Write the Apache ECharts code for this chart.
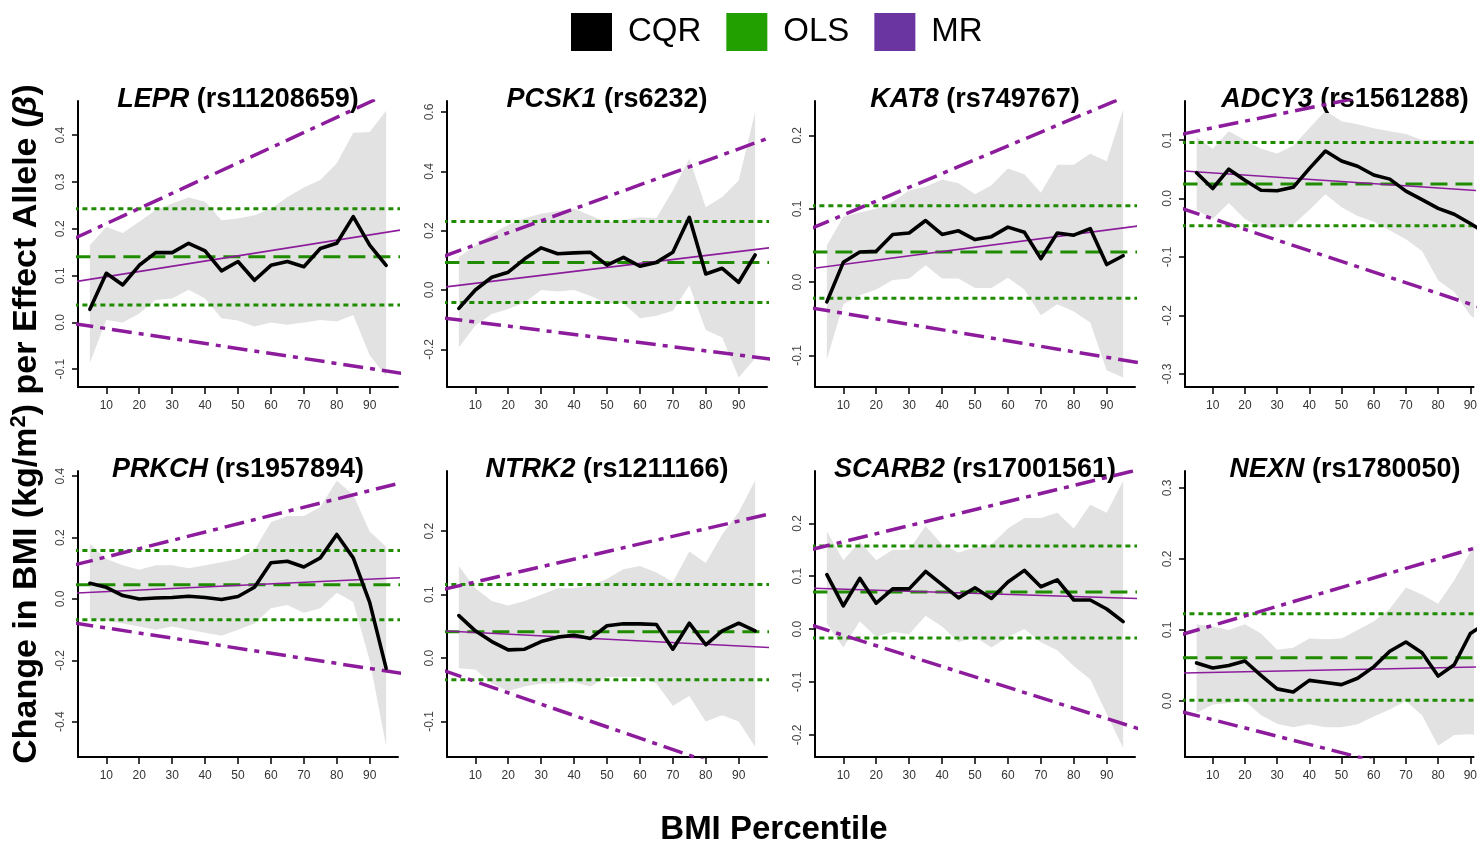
<!DOCTYPE html>
<html>
<head>
<meta charset="utf-8">
<script src="https://cdn.jsdelivr.net/npm/echarts@6/dist/echarts.min.js"></script>
<style>
  html, body { margin: 0; background: #fff; }
  #chart { width: 1480px; height: 844px; }
</style>
</head>
<body>
<div id="chart"></div>
<script>
// BMI percentile grid used by the quantile regression
const pct = [5, 10, 15, 20, 25, 30, 35, 40, 45, 50, 55, 60, 65, 70, 75, 80, 85, 90, 95];
const genes = ['LEPR', 'PCSK1', 'KAT8', 'ADCY3', 'PRKCH', 'NTRK2', 'SCARB2', 'NEXN'];
const snps  = ['rs11208659', 'rs6232', 'rs749767', 'rs1561288', 'rs1957894', 'rs1211166', 'rs17001561', 'rs1780050'];

// CQR estimates + confidence band (lo / hi)
const cqrLEPR = [0.028, 0.105, 0.080, 0.122, 0.149, 0.149, 0.169, 0.153, 0.110, 0.130, 0.090, 0.122, 0.130, 0.119, 0.158, 0.169, 0.226, 0.165, 0.122];
const hiLEPR  = [0.165, 0.204, 0.191, 0.215, 0.240, 0.254, 0.267, 0.258, 0.218, 0.222, 0.229, 0.243, 0.268, 0.288, 0.304, 0.340, 0.405, 0.407, 0.452];
const loLEPR  = [-0.086, 0.005, 0.000, 0.019, 0.048, 0.051, 0.070, 0.051, 0.009, 0.004, -0.009, 0.000, -0.005, 0.000, 0.005, 0.002, 0.016, -0.070, -0.115];

const cqrPCSK1 = [-0.062, 0.000, 0.043, 0.060, 0.105, 0.142, 0.122, 0.125, 0.127, 0.084, 0.110, 0.080, 0.093, 0.127, 0.245, 0.054, 0.073, 0.026, 0.118];
const hiPCSK1  = [0.110, 0.150, 0.189, 0.220, 0.242, 0.257, 0.266, 0.274, 0.251, 0.229, 0.236, 0.245, 0.243, 0.335, 0.442, 0.279, 0.313, 0.369, 0.600];
const loPCSK1  = [-0.194, -0.120, -0.081, -0.064, -0.042, 0.000, -0.005, 0.000, -0.020, -0.045, -0.045, -0.095, -0.087, -0.070, 0.015, -0.135, -0.160, -0.295, -0.230];

const cqrKAT8 = [-0.027, 0.027, 0.041, 0.042, 0.065, 0.067, 0.084, 0.065, 0.070, 0.058, 0.062, 0.075, 0.068, 0.032, 0.067, 0.064, 0.073, 0.024, 0.036];
const hiKAT8  = [0.050, 0.089, 0.095, 0.100, 0.110, 0.125, 0.130, 0.140, 0.135, 0.120, 0.132, 0.155, 0.147, 0.122, 0.160, 0.160, 0.175, 0.165, 0.235];
const loKAT8  = [-0.105, -0.030, -0.018, -0.010, 0.003, 0.005, 0.023, 0.005, 0.005, -0.008, -0.008, 0.006, -0.010, -0.045, -0.030, -0.040, -0.055, -0.120, -0.130];

const cqrADCY3 = [0.044, 0.017, 0.050, 0.031, 0.014, 0.013, 0.019, 0.051, 0.081, 0.064, 0.055, 0.040, 0.033, 0.0125, -0.002, -0.017, -0.027, -0.043, -0.060];
const hiADCY3  = [0.105, 0.085, 0.115, 0.100, 0.085, 0.077, 0.090, 0.120, 0.150, 0.132, 0.127, 0.120, 0.115, 0.110, 0.100, 0.100, 0.100, 0.100, 0.100];
const loADCY3  = [-0.020, -0.035, -0.008, -0.035, -0.050, -0.050, -0.045, -0.020, 0.007, -0.015, -0.030, -0.040, -0.055, -0.070, -0.090, -0.140, -0.160, -0.200, -0.220];

const cqrPRKCH = [0.051, 0.038, 0.011, 0.000, 0.003, 0.005, 0.009, 0.005, -0.002, 0.008, 0.038, 0.118, 0.123, 0.104, 0.134, 0.210, 0.134, -0.011, -0.226];
const hiPRKCH  = [0.180, 0.130, 0.110, 0.095, 0.110, 0.110, 0.100, 0.110, 0.120, 0.130, 0.160, 0.250, 0.270, 0.270, 0.300, 0.385, 0.340, 0.220, 0.170];
const loPRKCH  = [-0.065, -0.070, -0.080, -0.090, -0.100, -0.090, -0.100, -0.110, -0.120, -0.100, -0.080, -0.030, -0.020, -0.045, -0.030, 0.020, -0.010, -0.200, -0.480];

const cqrNTRK2 = [0.067, 0.043, 0.026, 0.013, 0.014, 0.026, 0.033, 0.036, 0.031, 0.051, 0.054, 0.054, 0.053, 0.014, 0.055, 0.021, 0.043, 0.055, 0.043];
const hiNTRK2  = [0.145, 0.110, 0.090, 0.083, 0.090, 0.100, 0.110, 0.110, 0.115, 0.125, 0.140, 0.145, 0.135, 0.120, 0.168, 0.150, 0.195, 0.230, 0.280];
const loNTRK2  = [-0.016, -0.018, -0.040, -0.052, -0.045, -0.040, -0.040, -0.038, -0.045, -0.030, -0.030, -0.030, -0.040, -0.075, -0.060, -0.100, -0.090, -0.100, -0.140];

const cqrSCARB2 = [0.103, 0.044, 0.096, 0.049, 0.076, 0.076, 0.109, 0.084, 0.059, 0.078, 0.058, 0.089, 0.111, 0.080, 0.093, 0.055, 0.055, 0.038, 0.014];
const hiSCARB2  = [0.185, 0.130, 0.165, 0.130, 0.150, 0.150, 0.195, 0.160, 0.145, 0.155, 0.160, 0.190, 0.210, 0.210, 0.220, 0.190, 0.235, 0.220, 0.280];
const loSCARB2  = [0.010, -0.035, 0.015, -0.015, -0.005, -0.010, 0.025, 0.005, -0.025, -0.015, -0.035, -0.015, 0.000, -0.025, -0.040, -0.070, -0.095, -0.160, -0.225];

const cqrNEXN = [0.0535, 0.0465, 0.050, 0.0563, 0.036, 0.017, 0.0127, 0.029, 0.026, 0.023, 0.032, 0.048, 0.070, 0.083, 0.068, 0.035, 0.051, 0.095, 0.110];
const hiNEXN  = [0.108, 0.105, 0.100, 0.108, 0.095, 0.072, 0.075, 0.088, 0.087, 0.088, 0.100, 0.112, 0.130, 0.160, 0.150, 0.137, 0.170, 0.210, 0.250];
const loNEXN  = [-0.017, -0.005, -0.003, 0.000, -0.020, -0.032, -0.037, -0.033, -0.037, -0.037, -0.033, -0.022, -0.012, 0.000, -0.020, -0.063, -0.048, -0.047, -0.050];

// OLS estimate and CI (one per gene)
const olsEst = [0.140, 0.093, 0.041, 0.0245, 0.046, 0.0416, 0.070, 0.061];
const olsLo  = [0.037, -0.042, -0.022, -0.0467, -0.068, -0.034, -0.017, 0.001];
const olsHi  = [0.243, 0.231, 0.104, 0.0956, 0.158, 0.116, 0.157, 0.123];

// MR fit: value at percentile 0 and percentile 100
const mrEst0   = [0.0864, 0.009, 0.0182, 0.0472, 0.019, 0.043, 0.0773, 0.0393];
const mrEst100 = [0.198, 0.143, 0.0768, 0.0105, 0.0695, 0.0165, 0.0577, 0.0485];
const mrHi0    = [0.1785, 0.112, 0.0728, 0.1094, 0.110, 0.108, 0.150, 0.093];
const mrHi100  = [0.503, 0.516, 0.261, 0.223, 0.380, 0.228, 0.302, 0.227];
const mrLo0    = [-0.0025, -0.094, -0.035, -0.0164, -0.078, -0.019, 0.008, -0.0148];
const mrLo100  = [-0.109, -0.233, -0.110, -0.199, -0.243, -0.198, -0.189, -0.131];

// y ranges and tick labels per panel
const yMin = [-0.138, -0.327, -0.143, -0.3225, -0.515, -0.156, -0.242, -0.079];
const yMax = [0.473, 0.637, 0.247, 0.1666, 0.417, 0.295, 0.299, 0.324];
const yTicks = [
  [-0.1, 0, 0.1, 0.2, 0.3, 0.4],
  [-0.2, 0, 0.2, 0.4, 0.6],
  [-0.1, 0, 0.1, 0.2],
  [-0.3, -0.2, -0.1, 0, 0.1],
  [-0.4, -0.2, 0, 0.2, 0.4],
  [-0.1, 0, 0.1, 0.2],
  [-0.2, -0.1, 0, 0.1, 0.2, 0.3],
  [0, 0.1, 0.2, 0.3]
];
const xTicks = [10, 20, 30, 40, 50, 60, 70, 80, 90];
const X_LO = 1.4, X_HI = 98.6;   // R-style 4% padding around 5..95

const cqr = [cqrLEPR, cqrPCSK1, cqrKAT8, cqrADCY3, cqrPRKCH, cqrNTRK2, cqrSCARB2, cqrNEXN];
const hi  = [hiLEPR, hiPCSK1, hiKAT8, hiADCY3, hiPRKCH, hiNTRK2, hiSCARB2, hiNEXN];
const lo  = [loLEPR, loPCSK1, loKAT8, loADCY3, loPRKCH, loNTRK2, loSCARB2, loNEXN];

// --- styling / layout ---
const W = 1480;
const FONT = '"Liberation Sans", Arial, Helvetica, sans-serif';
const GREEN = '#1f8c00';
const PURPLE = '#8c1c9c';
const BAND = '#e2e2e2';
const colLeft = [78, 447, 815, 1185];
const rowTop = [101, 471];
const PW = 320, PH = 286;

const grids = [], xAxes = [], yAxes = [], series = [], graphics = [];

// band polygon: upper edge left->right, lower edge back right->left
function bandRenderer(i) {
  return function (params, api) {
    if (params.dataIndex !== 0) return;
    const pts = [];
    pct.forEach((p, k) => pts.push(api.coord([p, hi[i][k]])));
    for (let k = pct.length - 1; k >= 0; k--) pts.push(api.coord([pct[k], lo[i][k]]));
    return { type: 'polygon', shape: { points: pts }, style: { fill: BAND }, silent: true };
  };
}

genes.forEach((g, i) => {
  const left = colLeft[i % 4];
  const top = rowTop[Math.floor(i / 4)];
  // the right-hand column is cut by the page edge: keep the same scale, shorten the grid
  const visW = Math.min(PW, W - left);
  const xMax = X_LO + (X_HI - X_LO) * visW / PW;
  grids.push({ left, top, width: visW, height: PH });

  xAxes.push({
    gridIndex: i, type: 'value', min: X_LO, max: xMax,
    axisLine: { onZero: false, lineStyle: { color: '#000', width: 2 } },
    axisTick: { customValues: xTicks, length: 7, lineStyle: { color: '#000', width: 1.5 } },
    axisLabel: { customValues: xTicks, fontSize: 12, color: '#333', margin: 13, fontFamily: FONT },
    splitLine: { show: false }
  });
  yAxes.push({
    gridIndex: i, type: 'value', min: yMin[i], max: yMax[i],
    axisLine: { show: true, onZero: false, lineStyle: { color: '#000', width: 2 } },
    axisTick: { show: true, customValues: yTicks[i], length: 6, lineStyle: { color: '#000', width: 1.5 } },
    axisLabel: {
      customValues: yTicks[i], rotate: 90, fontSize: 12, color: '#444', margin: 11, fontFamily: FONT,
      formatter: v => (Math.abs(v) < 1e-9 ? 0 : v).toFixed(1)
    },
    splitLine: { show: false }
  });

  const base = { type: 'line', xAxisIndex: i, yAxisIndex: i, symbol: 'none', silent: true, animation: false };
  const flat = v => [[0, v], [100, v]];

  // confidence band of the CQR estimates
  series.push({
    type: 'custom', name: 'band', xAxisIndex: i, yAxisIndex: i, silent: true, z: 1, clip: true,
    data: pct.map((p, k) => [p, lo[i][k], hi[i][k]]),
    encode: { x: 0, y: [1, 2] },
    renderItem: bandRenderer(i)
  });

  // OLS
  series.push(Object.assign({}, base, { name: 'OLS', data: flat(olsLo[i]), color: GREEN,
    lineStyle: { color: GREEN, width: 3, type: [5, 4] }, z: 3 }));
  series.push(Object.assign({}, base, { name: 'OLS', data: flat(olsHi[i]), color: GREEN,
    lineStyle: { color: GREEN, width: 3, type: [5, 4] }, z: 3 }));
  series.push(Object.assign({}, base, { name: 'OLS', data: flat(olsEst[i]), color: GREEN,
    lineStyle: { color: GREEN, width: 3, type: [17, 8] }, z: 3 }));

  // MR
  series.push(Object.assign({}, base, { name: 'MR', data: [[0, mrLo0[i]], [100, mrLo100[i]]], color: PURPLE,
    lineStyle: { color: PURPLE, width: 3.5, type: [20, 7, 5, 7] }, z: 4 }));
  series.push(Object.assign({}, base, { name: 'MR', data: [[0, mrHi0[i]], [100, mrHi100[i]]], color: PURPLE,
    lineStyle: { color: PURPLE, width: 3.5, type: [20, 7, 5, 7] }, z: 4 }));
  series.push(Object.assign({}, base, { name: 'MR', data: [[0, mrEst0[i]], [100, mrEst100[i]]], color: PURPLE,
    lineStyle: { color: PURPLE, width: 1.6 }, z: 5 }));

  // CQR
  series.push(Object.assign({}, base, { name: 'CQR', data: pct.map((p, k) => [p, cqr[i][k]]), color: '#000',
    lineStyle: { color: '#000', width: 3.6, join: 'round', cap: 'round' }, z: 6 }));

  // panel title (centred on the full, uncut panel)
  graphics.push({
    type: 'text', x: left + PW / 2, y: top - 1, z: 2,
    style: {
      text: '{it|' + g + '}{n| (' + snps[i] + ')}',
      align: 'center', verticalAlign: 'middle',
      rich: {
        it: { fontFamily: FONT, fontSize: 27, fontWeight: 'bold', fontStyle: 'italic', fill: '#000' },
        n:  { fontFamily: FONT, fontSize: 27, fontWeight: 'bold', fill: '#000' }
      }
    }
  });
});

// axis titles
graphics.push({
  type: 'text', x: 774, y: 830,
  style: { text: 'BMI Percentile', align: 'center', verticalAlign: 'middle',
    font: 'bold 33px ' + FONT, fill: '#000' }
});
graphics.push({
  type: 'text', x: 27, y: 424, rotation: Math.PI / 2,
  style: {
    text: '{b|Change in BMI (kg/m}{s|2}{b|) per Effect Allele (}{i|β}{b|)}',
    align: 'center', verticalAlign: 'middle',
    rich: {
      b: { fontFamily: FONT, fontSize: 34, fontWeight: 'bold', fill: '#000', lineHeight: 39 },
      s: { fontFamily: FONT, fontSize: 22, fontWeight: 'bold', fill: '#000', verticalAlign: 'top', lineHeight: 39 },
      i: { fontFamily: FONT, fontSize: 34, fontWeight: 'bold', fontStyle: 'italic', fill: '#000', lineHeight: 39 }
    }
  }
});

const chart = echarts.init(document.getElementById('chart'), null, { renderer: 'canvas' });
chart.setOption({
  animation: false,
  backgroundColor: '#fff',
  legend: {
    left: 571, top: 13, padding: 0,
    icon: 'rect', itemWidth: 41, itemHeight: 38, itemGap: 25,
    itemStyle: { borderWidth: 0 },
    textStyle: { fontFamily: FONT, fontSize: 33, color: '#000', padding: [3, 0, 0, 11] },
    data: [
      { name: 'CQR', itemStyle: { color: '#000' } },
      { name: 'OLS', itemStyle: { color: '#22a000' } },
      { name: 'MR', itemStyle: { color: '#6a35a1' } }
    ]
  },
  grid: grids,
  xAxis: xAxes,
  yAxis: yAxes,
  series: series,
  graphic: graphics
});
</script>
</body>
</html>
